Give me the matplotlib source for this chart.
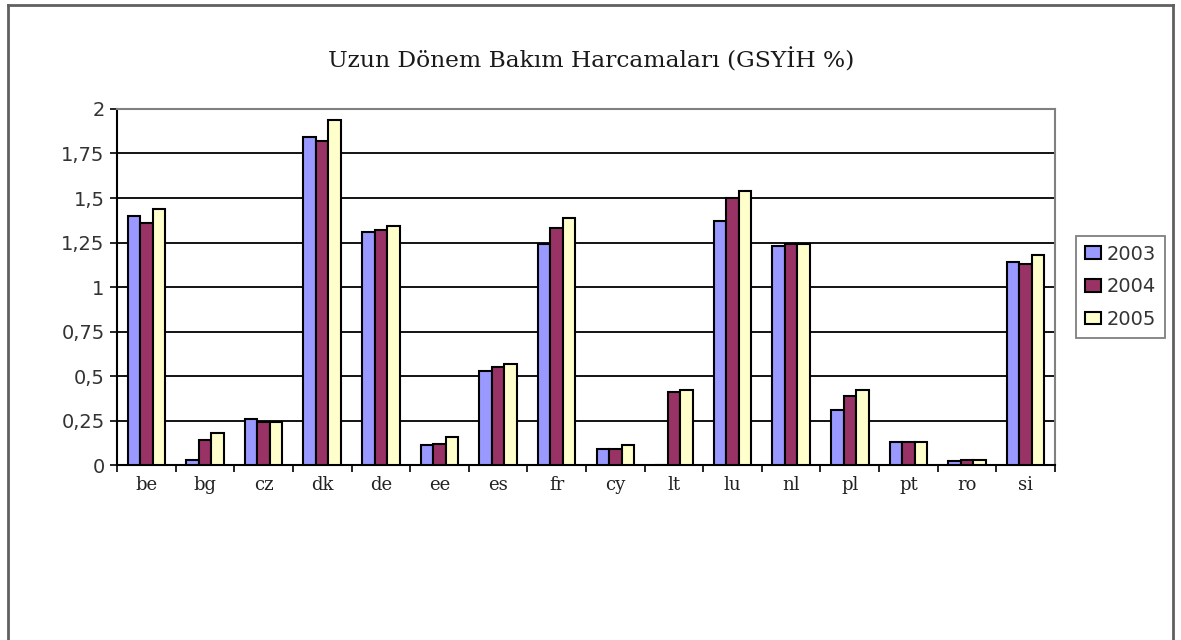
import numpy as np
import matplotlib
matplotlib.use("Agg")
import matplotlib.pyplot as plt
from matplotlib.lines import Line2D
from matplotlib.ticker import FixedLocator

# data
countries = ["be", "bg", "cz", "dk", "de", "ee", "es", "fr", "cy", "lt", "lu", "nl", "pl", "pt", "ro", "si"]
years = ["2003", "2004", "2005"]
v2003 = [1.40, 0.03, 0.26, 1.84, 1.31, 0.11, 0.53, 1.24, 0.09, 0.0, 1.37, 1.23, 0.31, 0.13, 0.02, 1.14]
v2004 = [1.36, 0.14, 0.24, 1.82, 1.32, 0.12, 0.55, 1.33, 0.09, 0.41, 1.50, 1.24, 0.39, 0.13, 0.03, 1.13]
v2005 = [1.44, 0.18, 0.24, 1.94, 1.34, 0.16, 0.57, 1.39, 0.11, 0.42, 1.54, 1.24, 0.42, 0.13, 0.03, 1.18]
colors = ["#9999FF", "#993366", "#FFFFCC"]
yticks = [0, 0.25, 0.5, 0.75, 1, 1.25, 1.5, 1.75, 2]
ytick_labels = ["0", "0,25", "0,5", "0,75", "1", "1,25", "1,5", "1,75", "2"]

fig = plt.figure(figsize=(11.81, 6.40), dpi=100)
ax = fig.add_axes([0.0991, 0.2734, 0.7942, 0.5563])

x = np.arange(len(countries))
w = 0.213
for i, vals in enumerate([v2003, v2004, v2005]):
    ax.bar(x + (i - 1) * w, vals, width=w, color=colors[i], edgecolor="black",
           linewidth=1.5, label=years[i], zorder=3)

ax.set_xlim(-0.5, len(countries) - 0.5)
ax.set_ylim(0, 2)
ax.set_yticks(yticks)
ax.set_yticklabels(ytick_labels, fontfamily="DejaVu Sans", fontsize=14, color="#333333")
ax.yaxis.grid(True, color="black", linewidth=1.3, zorder=0)

# category labels centred, ticks between categories
ax.set_xticks(x)
ax.set_xticklabels(countries, fontfamily="DejaVu Serif", fontsize=13, color="#222222")
ax.tick_params(axis="x", which="major", length=0, pad=8)
ax.xaxis.set_minor_locator(FixedLocator(np.arange(-0.5, len(countries), 1.0)))
ax.tick_params(axis="x", which="minor", length=5, width=1.2, direction="out")
ax.tick_params(axis="y", length=5, width=1.2, direction="out", pad=4)

for side in ["top", "right"]:
    ax.spines[side].set_color("#808080")
    ax.spines[side].set_linewidth(1.5)
for side in ["left", "bottom"]:
    ax.spines[side].set_color("black")
    ax.spines[side].set_linewidth(1.5)

fig.text(0.501, 0.905, "Uzun Dönem Bakım Harcamaları (GSYİH %)", ha="center", va="center",
         fontfamily="DejaVu Serif", fontsize=16.8, color="#1a1a1a")

leg = fig.legend(loc="center", bbox_to_anchor=(0.9487, 0.552), prop={"family": "DejaVu Sans", "size": 14},
                 frameon=True, fancybox=False, edgecolor="#606060", handlelength=0.85, handleheight=0.65,
                 handletextpad=0.3, borderpad=0.45, labelspacing=0.7, borderaxespad=0)
leg.get_frame().set_linewidth(1.3)
leg.set_zorder(5)
for t in leg.get_texts():
    t.set_color("#333333")

# outer chart border (left, top, right)
border = dict(color="#606060", linewidth=2, transform=fig.transFigure)
fig.add_artist(Line2D([8 / 1181, 8 / 1181], [0, 1 - 5 / 640], **border))
fig.add_artist(Line2D([8 / 1181, 1173 / 1181], [1 - 5 / 640, 1 - 5 / 640], **border))
fig.add_artist(Line2D([1173 / 1181, 1173 / 1181], [0, 1 - 5 / 640], **border))

fig.savefig("out.png", dpi=100)
